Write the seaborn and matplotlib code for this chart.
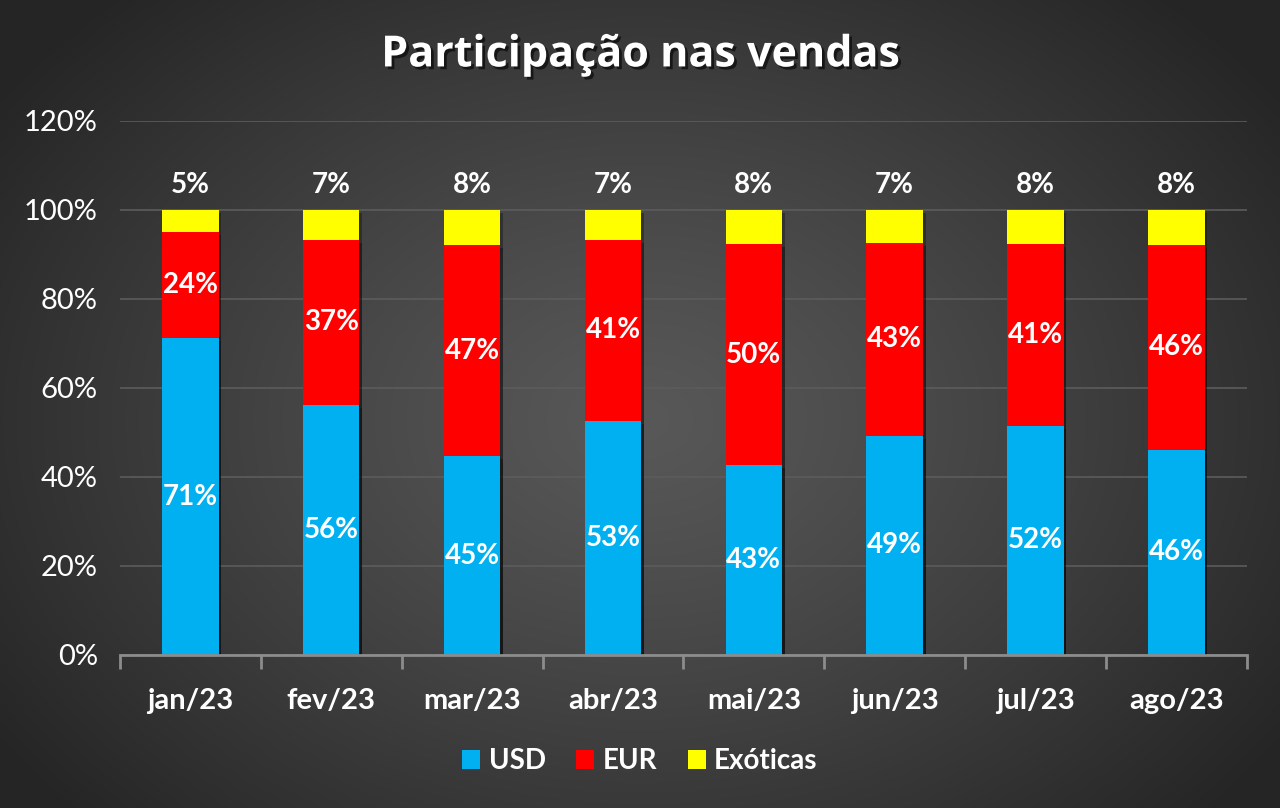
import numpy as np
import pandas as pd
import matplotlib
matplotlib.use("Agg")
import matplotlib.pyplot as plt
import matplotlib.patheffects as pe
from matplotlib.patches import Patch
from matplotlib.ticker import FuncFormatter, FixedLocator
import seaborn as sns

months = ["jan/23", "fev/23", "mar/23", "abr/23", "mai/23", "jun/23", "jul/23", "ago/23"]
usd = [0.712, 0.562, 0.447, 0.526, 0.426, 0.492, 0.515, 0.461]
eur = [0.239, 0.371, 0.474, 0.407, 0.498, 0.434, 0.409, 0.460]
exo = [0.049, 0.067, 0.079, 0.067, 0.076, 0.074, 0.076, 0.079]
series = ["USD", "EUR", "Exóticas"]
colors = ["#00B0F0", "#FF0000", "#FFFF00"]
yticks = [0, 0.2, 0.4, 0.6, 0.8, 1.0, 1.2]

sns.set_theme(style="dark")
plt.rcParams["font.family"] = ["Lato", "DejaVu Sans"]

fig = plt.figure(figsize=(12.8, 8.08), dpi=100)

# radial gradient background
bg = fig.add_axes([0, 0, 1, 1], zorder=-10)
yy, xx = np.mgrid[0:808, 0:1280]
r = np.sqrt(((xx - 640) / 780.0) ** 2 + ((yy - 420) / 580.0) ** 2)
r = np.clip(r, 0, 1) ** 1.2
c0 = np.array([0x58, 0x58, 0x58]) / 255
c1 = np.array([0x25, 0x25, 0x25]) / 255
img = c0[None, None, :] * (1 - r[..., None]) + c1[None, None, :] * r[..., None]
bg.imshow(img, aspect="auto", extent=[0, 1, 0, 1])
bg.axis("off")

ax = fig.add_axes([0.09375, 0.1894, 0.8803, 0.6609])
ax.set_facecolor("none")

total = [u + e + x for u, e, x in zip(usd, eur, exo)]
ue = [u + e for u, e in zip(usd, eur)]
df = pd.DataFrame({"mes": months, "total": total, "ue": ue, "usd": usd})

shadow = [pe.SimplePatchShadow(offset=(2, -2), shadow_rgbFace="black", alpha=0.3), pe.Normal()]
for col, c in zip(["total", "ue", "usd"], [colors[2], colors[1], colors[0]]):
    sns.barplot(data=df, x="mes", y=col, color=c, width=0.4, saturation=1,
                ax=ax, zorder=3, edgecolor="none")

for p in ax.patches:
    p.set_path_effects(shadow)

ax.set_xlim(-0.5, 7.5)
ax.set_ylim(0, 1.2)
ax.yaxis.set_major_locator(FixedLocator(yticks))
ax.yaxis.set_major_formatter(FuncFormatter(lambda v, _: f"{v:.0%}"))
ax.grid(axis="y", color="#5c5c5c", linewidth=1.2, zorder=0)
ax.grid(axis="x", visible=False)
ax.set_axisbelow(True)
for s in ["top", "right", "left"]:
    ax.spines[s].set_visible(False)
ax.spines["bottom"].set_color("#8c8c8c")
ax.spines["bottom"].set_linewidth(2)
ax.spines["bottom"].set_zorder(4)

ax.set_xlabel("")
ax.set_ylabel("")
ax.tick_params(axis="y", colors="white", labelsize=21, length=0, pad=16)
ax.xaxis.set_minor_locator(FixedLocator(np.arange(-0.5, 8.0, 1.0)))
ax.tick_params(axis="x", which="major", bottom=False, length=0, labelsize=21,
               labelcolor="white", pad=24)
ax.tick_params(axis="x", which="minor", bottom=True, length=10, width=2,
               color="#8c8c8c", direction="out")
for lbl in ax.get_xticklabels():
    lbl.set_fontweight("bold")

# data labels
for i in range(len(months)):
    ax.text(i, usd[i] / 2, f"{usd[i]:.0%}", ha="center", va="center", color="white",
            fontsize=20, fontweight="bold", zorder=5)
    ax.text(i, usd[i] + eur[i] / 2, f"{eur[i]:.0%}", ha="center", va="center", color="white",
            fontsize=20, fontweight="bold", zorder=5)
    ax.text(i, total[i] + 0.055, f"{exo[i]:.0%}", ha="center", va="center", color="white",
            fontsize=20, fontweight="bold", zorder=5)

fig.text(0.5, 0.932, "Participação nas vendas", ha="center", va="center", color="white",
         fontsize=31, fontweight="bold", family=["Open Sans", "DejaVu Sans"],
         path_effects=[pe.withSimplePatchShadow(offset=(2, -2), shadow_rgbFace="black", alpha=0.6)])

handles = [Patch(facecolor=c, edgecolor="none", label=s) for s, c in zip(series, colors)]
leg = fig.legend(handles=handles, loc="center", bbox_to_anchor=(0.5, 0.058), ncol=3,
                 frameon=False, fontsize=20, handlelength=0.65, handleheight=0.65,
                 handletextpad=0.3, columnspacing=1.1)
for t in leg.get_texts():
    t.set_color("white")
    t.set_fontweight("bold")

fig.savefig("out.png", dpi=100)
